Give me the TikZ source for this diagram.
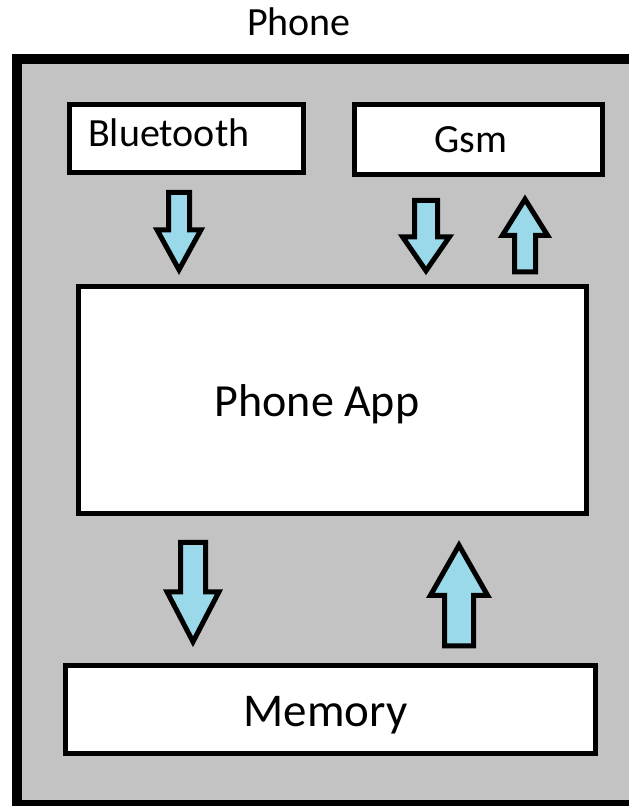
\documentclass[tikz,border=0pt]{standalone}
\usepackage{fontspec}
\setmainfont{Carlito}
\usetikzlibrary{calc}
\definecolor{casegrey}{RGB}{195,195,195}
\definecolor{flowblue}{RGB}{153,217,234}
\tikzset{
  unit/.style={draw, line width=5.5pt, fill=white, inner sep=0pt},
  flow/.style={draw, line width=5pt, fill=flowblue, line join=miter},
  caption/.style={inner sep=0pt, font=\fontsize{40}{48}\selectfont},
}
% block arrow: start, tip, shaft half width, head half width, head length
\newcommand\fatarrow[5]{%
  \coordinate (fa-s) at #1;
  \coordinate (fa-t) at #2;
  \coordinate (fa-b) at ($(fa-t)!#5!(fa-s)$);
  \draw[flow] ($(fa-s)!#3!90:(fa-t)$) -- ($(fa-b)!#3!90:(fa-t)$) -- ($(fa-b)!#4!90:(fa-t)$)
    -- (fa-t) -- ($(fa-b)!#4!-90:(fa-t)$) -- ($(fa-b)!#3!-90:(fa-t)$)
    -- ($(fa-s)!#3!-90:(fa-t)$) -- cycle;
}
\begin{document}
\begin{tikzpicture}[x=1pt, y=-1pt]
  \useasboundingbox (0,0) rectangle (629,806);
  \clip (0,0) rectangle (629,806);
  \fill[white] (0,0) rectangle (629,806);
  % phone case
  \draw[line width=10pt, fill=casegrey] (17,59) rectangle (650,805);
  \node[caption, anchor=base] (title) at (299,35) {Phone};

  \node[unit, minimum width=234pt, minimum height=68pt] (bt) at (186.5,138.5) {};
  \node[unit, minimum width=248pt, minimum height=70pt] (gsm) at (478.5,139.5) {};
  \node[unit, minimum width=508pt, minimum height=227pt] (app) at (332.5,400) {};
  \node[unit, minimum width=530pt, minimum height=88pt] (mem) at (330.5,709.5) {};

  \node[caption, anchor=base west] (bt-text) at (88,146) {Bluetooth};
  \node[caption, anchor=base] (gsm-text) at (471,152) {Gsm};
  \node[caption, anchor=base, font=\fontsize{46}{54}\selectfont] (app-text) at (317,416) {Phone App};
  \node[caption, anchor=base, font=\fontsize{47}{56}\selectfont] (mem-text) at (325.5,726) {Memory};

  \fatarrow{($(bt.south)+(-7.5,17)$)}{($(app.north)+(-153.5,-14)$)}{10.5pt}{22pt}{40pt}
  \fatarrow{($(gsm.south)+(-52.5,23)$)}{($(app.north)+(93.5,-13)$)}{11.5pt}{23.5pt}{34pt}
  \fatarrow{($(app.north)+(192.5,-12)$)}{($(gsm.south)+(46.5,22)$)}{10.5pt}{22.5pt}{36pt}
  \fatarrow{($(app.south)+(-139.5,26)$)}{($(mem.north)+(-137.5,-21)$)}{12.5pt}{26pt}{50pt}
  \fatarrow{($(mem.north)+(128.5,-17)$)}{($(app.south)+(126.5,29)$)}{14.5pt}{28.5pt}{50pt}
\end{tikzpicture}
\end{document}
